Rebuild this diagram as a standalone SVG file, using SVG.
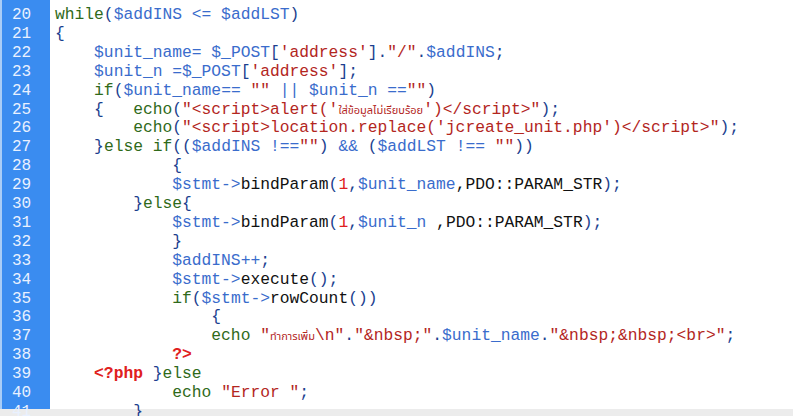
<svg xmlns="http://www.w3.org/2000/svg" width="793" height="416" viewBox="0 0 793 416">
<style>
text{font-family:"Liberation Mono","Courier New",monospace;font-size:16.3px;white-space:pre}
.ln{fill:#e9f1ff;font-size:16px}
.k{fill:#2f6a1a}.v{fill:#3a6ccc}.s{fill:#b3261e}.p{fill:#1c3f8f}.d{fill:#111}.n{fill:#e02020}
.th{font-family:"Noto Sans Thai","DejaVu Sans","Noto Sans",sans-serif;font-size:11px}
</style>
<rect width="793" height="416" fill="#fff"/>
<g id="gutter">
<rect x="0" y="0" width="50" height="410" fill="#3a8cf0"/>
<rect x="0" y="0" width="2" height="410" fill="#a9cdf7"/>
<rect x="0" y="409" width="793" height="7" fill="#ececec"/>
<text class="ln" x="12" y="19">20</text><text class="ln" x="12" y="37.9">21</text><text class="ln" x="12" y="56.8">22</text><text class="ln" x="12" y="75.7">23</text><text class="ln" x="12" y="94.6">24</text><text class="ln" x="12" y="113.5">25</text><text class="ln" x="12" y="132.4">26</text><text class="ln" x="12" y="151.3">27</text><text class="ln" x="12" y="170.2">28</text><text class="ln" x="12" y="189.1">29</text><text class="ln" x="12" y="208">30</text><text class="ln" x="12" y="226.9">31</text><text class="ln" x="12" y="245.8">32</text><text class="ln" x="12" y="264.7">33</text><text class="ln" x="12" y="283.6">34</text><text class="ln" x="12" y="302.5">35</text><text class="ln" x="12" y="321.4">36</text><text class="ln" x="12" y="340.3">37</text><text class="ln" x="12" y="359.2">38</text><text class="ln" x="12" y="378.1">39</text><text class="ln" x="12" y="397">40</text><text class="ln" x="12" y="415.9">41</text>
</g>
<g id="code">
<text x="55" y="19"><tspan class="k">while</tspan><tspan class="p">(</tspan><tspan class="v">$addINS &lt;= $addLST</tspan><tspan class="p">)</tspan></text>
<text x="55" y="37.9" class="p">{</text>
<text x="55" y="56.8">    <tspan class="v">$unit_name= $_POST</tspan><tspan class="p">[</tspan><tspan class="s">'address'</tspan><tspan class="p">].</tspan><tspan class="s">"/"</tspan><tspan class="p">.</tspan><tspan class="v">$addINS</tspan><tspan class="p">;</tspan></text>
<text x="55" y="75.7">    <tspan class="v">$unit_n =$_POST</tspan><tspan class="p">[</tspan><tspan class="s">'address'</tspan><tspan class="p">];</tspan></text>
<text x="55" y="94.6">    <tspan class="k">if</tspan><tspan class="p">(</tspan><tspan class="v">$unit_name== </tspan><tspan class="s">""</tspan><tspan class="v"> || $unit_n ==</tspan><tspan class="s">""</tspan><tspan class="p">)</tspan></text>
<text x="55" y="113.5">    <tspan class="p">{</tspan>   <tspan class="k">echo</tspan><tspan class="p">(</tspan><tspan class="s">"&lt;script&gt;alert('</tspan><tspan class="s th">ใส่ข้อมูลไม่เรียบร้อย</tspan><tspan class="s">')&lt;/script&gt;"</tspan><tspan class="p">);</tspan></text>
<text x="55" y="132.4">        <tspan class="k">echo</tspan><tspan class="p">(</tspan><tspan class="s">"&lt;script&gt;location.replace('jcreate_unit.php')&lt;/script&gt;"</tspan><tspan class="p">);</tspan></text>
<text x="55" y="151.3">    <tspan class="p">}</tspan><tspan class="k">else if</tspan><tspan class="p">((</tspan><tspan class="v">$addINS !==</tspan><tspan class="s">""</tspan><tspan class="p">) </tspan><tspan class="v">&amp;&amp;</tspan><tspan class="p"> (</tspan><tspan class="v">$addLST !== </tspan><tspan class="s">""</tspan><tspan class="p">))</tspan></text>
<text x="55" y="170.2" class="p">            {</text>
<text x="55" y="189.1">            <tspan class="v">$stmt-&gt;</tspan><tspan class="d">bindParam</tspan><tspan class="p">(</tspan><tspan class="n">1</tspan><tspan class="p">,</tspan><tspan class="v">$unit_name</tspan><tspan class="d">,PDO::PARAM_STR</tspan><tspan class="p">);</tspan></text>
<text x="55" y="208">        <tspan class="p">}</tspan><tspan class="k">else</tspan><tspan class="p">{</tspan></text>
<text x="55" y="226.9">            <tspan class="v">$stmt-&gt;</tspan><tspan class="d">bindParam</tspan><tspan class="p">(</tspan><tspan class="n">1</tspan><tspan class="p">,</tspan><tspan class="v">$unit_n </tspan><tspan class="d">,PDO::PARAM_STR</tspan><tspan class="p">);</tspan></text>
<text x="55" y="245.8" class="p">            }</text>
<text x="55" y="264.7">            <tspan class="v">$addINS++</tspan><tspan class="p">;</tspan></text>
<text x="55" y="283.6">            <tspan class="v">$stmt-&gt;</tspan><tspan class="d">execute</tspan><tspan class="p">();</tspan></text>
<text x="55" y="302.5">            <tspan class="k">if</tspan><tspan class="p">(</tspan><tspan class="v">$stmt-&gt;</tspan><tspan class="d">rowCount</tspan><tspan class="p">())</tspan></text>
<text x="55" y="321.4" class="p">                {</text>
<text x="55" y="340.3">                <tspan class="k">echo</tspan> <tspan class="s">"</tspan><tspan class="s th">ทำการเพิ่ม</tspan><tspan class="s">\n"</tspan><tspan class="p">.</tspan><tspan class="s">"&amp;nbsp;"</tspan><tspan class="p">.</tspan><tspan class="v">$unit_name</tspan><tspan class="p">.</tspan><tspan class="s">"&amp;nbsp;&amp;nbsp;&lt;br&gt;"</tspan><tspan class="p">;</tspan></text>
<text x="55" y="359.2">            <tspan class="n" font-weight="bold">?&gt;</tspan></text>
<text x="55" y="378.1">    <tspan class="n" font-weight="bold">&lt;?php</tspan> <tspan class="p">}</tspan><tspan class="k">else</tspan></text>
<text x="55" y="397">            <tspan class="k">echo</tspan> <tspan class="s">"Error "</tspan><tspan class="p">;</tspan></text>
<text x="55" y="415.9" class="p">        }</text>
</g>
</svg>
